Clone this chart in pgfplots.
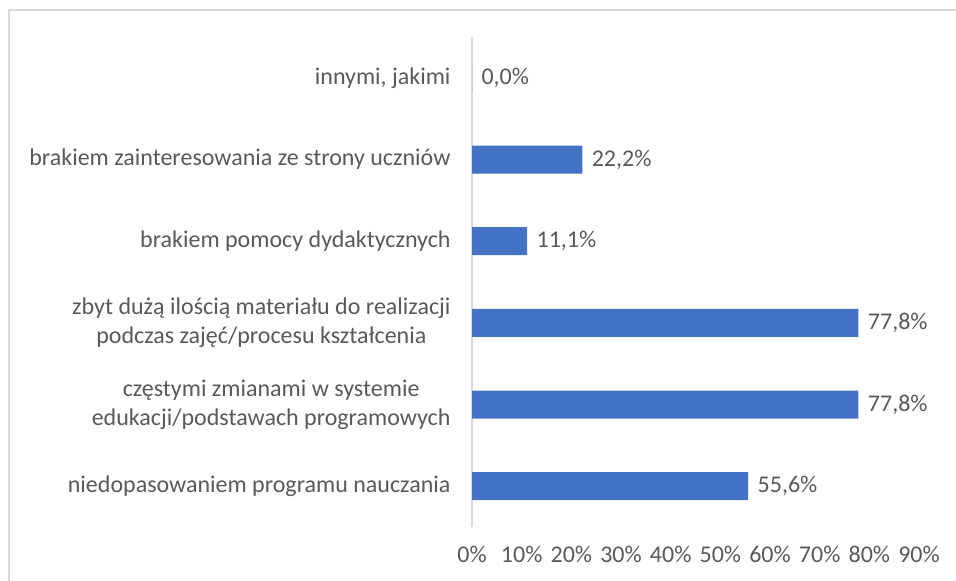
\documentclass[border=0pt]{standalone}
\usepackage{pgfplots}
\pgfplotsset{compat=1.18}
\usepackage{fontspec}
\setmainfont{Carlito}
\definecolor{barblue}{HTML}{4472C4}
\definecolor{txt}{HTML}{595959}
\definecolor{frame}{HTML}{D9D9D9}
\begin{document}
\begin{tikzpicture}
\useasboundingbox (0,0) rectangle (956bp,581bp);
\draw[frame, line width=1.5bp] (9bp,0) -- (9bp,571bp) -- (956bp,571bp);
\begin{axis}[
  at={(472bp,54bp)}, anchor=south west,
  scale only axis, width=447bp, height=490bp,
  xbar, bar width=28bp,
  xmin=0, xmax=90, ymin=-0.5, ymax=5.5,
  xtick={0,10,...,90},
  xticklabel={\pgfmathprintnumber{\tick}\%},
  ytick={0,1,2,3,4,5},
  yticklabels={niedopasowaniem programu nauczania,
    {częstymi zmianami w systemie\\edukacji/podstawach programowych},
    {zbyt dużą ilością materiału do realizacji\\podczas zajęć/procesu kształcenia},
    brakiem pomocy dydaktycznych,
    brakiem zainteresowania ze strony uczniów,
    {innymi, jakimi}},
  axis x line*=bottom, axis y line*=left,
  x axis line style={draw=none},
  y axis line style={draw=frame, line width=1.2bp, -},
  major tick length=0pt,
  /pgf/number format/assume math mode=true,
  font=\fontsize{24bp}{29bp}\selectfont,
  tick label style={text=txt},
  xticklabel style={yshift=-16bp},
  yticklabel style={align=center, xshift=-18bp},
  nodes near coords={\pgfmathprintnumber[fixed,fixed zerofill,precision=1,use comma]{\pgfplotspointmeta}\%},
  nodes near coords style={text=txt, xshift=6bp, font=\fontsize{24bp}{29bp}\selectfont},
]
\addplot[fill=barblue, draw=none] coordinates {
  (55.6,0) (77.8,1) (77.8,2) (11.1,3) (22.2,4) (0.0,5)
};
\end{axis}
\end{tikzpicture}
\end{document}
